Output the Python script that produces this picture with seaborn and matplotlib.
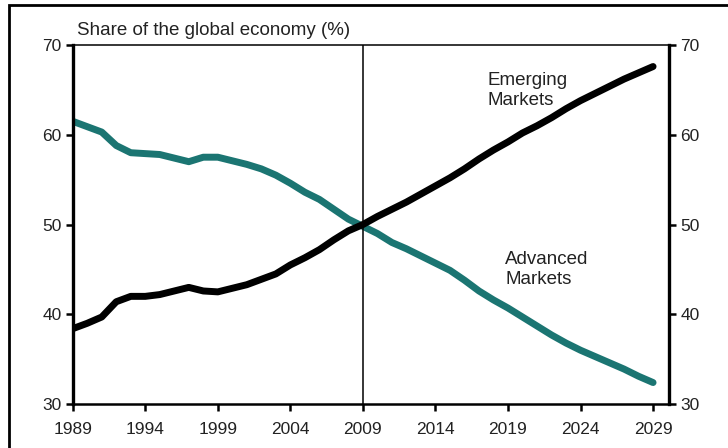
import matplotlib
matplotlib.use("Agg")
import matplotlib.pyplot as plt
import matplotlib.patches as mpatches
import seaborn as sns
import pandas as pd

years = list(range(1989, 2030))
advanced = [61.5, 60.9, 60.3, 58.8, 58.0, 57.9, 57.8, 57.4, 57.0, 57.5,
            57.5, 57.1, 56.7, 56.2, 55.5, 54.6, 53.6, 52.8, 51.7, 50.6,
            49.8, 49.0, 48.0, 47.3, 46.5, 45.7, 44.9, 43.8, 42.6, 41.6,
            40.7, 39.7, 38.7, 37.7, 36.8, 36.0, 35.3, 34.6, 33.9, 33.1, 32.4]
emerging = [38.4, 39.0, 39.7, 41.4, 42.0, 42.0, 42.2, 42.6, 43.0, 42.6,
            42.5, 42.9, 43.3, 43.9, 44.5, 45.5, 46.3, 47.2, 48.3, 49.3,
            50.0, 50.9, 51.7, 52.5, 53.4, 54.3, 55.2, 56.2, 57.3, 58.3,
            59.2, 60.2, 61.0, 61.9, 62.9, 63.8, 64.6, 65.4, 66.2, 66.9, 67.6]
xticks = [1989, 1994, 1999, 2004, 2009, 2014, 2019, 2024, 2029]
yticks = [30, 40, 50, 60, 70]

df = pd.DataFrame({
    "year": years * 2,
    "share": advanced + emerging,
    "group": ["Advanced"] * len(years) + ["Emerging"] * len(years),
})

sns.set_style("white")
plt.rcParams['font.family'] = ['Liberation Sans', 'DejaVu Sans']

fig = plt.figure(figsize=(7.28, 4.48), dpi=100)
ax = fig.add_axes([0.0999, 0.098, 0.8191, 0.8016])

sns.lineplot(data=df, x="year", y="share", hue="group",
             palette={"Advanced": "#1b7572", "Emerging": "#000000"},
             linewidth=5.0, legend=False, ax=ax, solid_capstyle="round")
ax.axvline(2009, color="black", linewidth=1.1)

ax.set_xlim(1989, 2030.1)
ax.set_ylim(30, 70)
ax.set_xticks(xticks)
ax.set_yticks(yticks)
ax.set_xlabel("")
ax.set_ylabel("")
ax.tick_params(axis="both", direction="out", length=5, width=1.8,
               color="black", labelsize=12.5, labelcolor="#222222", pad=3)
ax.tick_params(axis="y", left=True, right=True, labelleft=True, labelright=True)
ax.tick_params(axis="x", bottom=True, pad=8)

for side, lw in [("left", 2.4), ("right", 2.4), ("bottom", 1.8), ("top", 1.1)]:
    ax.spines[side].set_visible(True)
    ax.spines[side].set_color("black")
    ax.spines[side].set_linewidth(lw)

fig.text(0.106, 0.913, "Share of the global economy (%)", fontsize=13.5,
         color="#222222", ha="left", va="bottom")
ax.text(2017.6, 67.0, "Emerging\nMarkets", fontsize=13.5, color="#222222",
        ha="left", va="top", linespacing=1.2)
ax.text(2018.8, 47.0, "Advanced\nMarkets", fontsize=13.5, color="#222222",
        ha="left", va="top", linespacing=1.2)

# outer frame of the original figure (cut off at right and bottom)
fig.patches.append(mpatches.Rectangle((0.0125, -0.2), 1.2, 1.189,
                                      transform=fig.transFigure, fill=False,
                                      edgecolor="black", linewidth=2.0))

fig.savefig("out.png", dpi=100)
